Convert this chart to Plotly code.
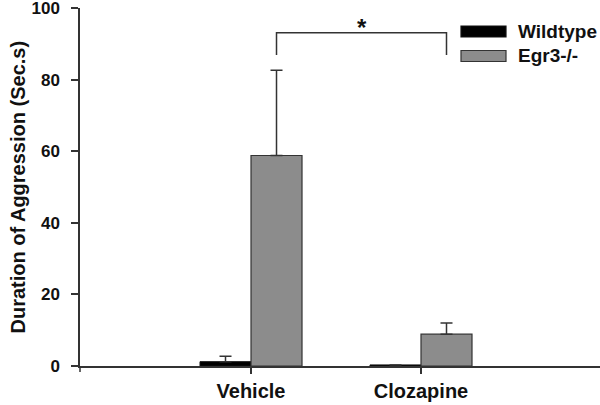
import plotly.graph_objects as go

categories = ["Vehicle", "Clozapine"]
wildtype = [1.2, 0.3]
wildtype_err = [1.5, 0.0]
egr3 = [58.8, 8.9]
egr3_err = [23.8, 3.1]
y_ticks = [0, 20, 40, 60, 80, 100]
y_title = "Duration of Aggression (Sec.s)"

FONT = "Liberation Sans, Arial, sans-serif"
AX = "#333333"

fig = go.Figure()
fig.add_trace(go.Bar(
    x=categories, y=wildtype, name="Wildtype",
    marker=dict(color="#000000", line=dict(color="#111111", width=1)),
    error_y=dict(type="data", array=wildtype_err, arrayminus=[0, 0], symmetric=False,
                 color=AX, thickness=1.5, width=6),
))
fig.add_trace(go.Bar(
    x=categories, y=egr3, name="Egr3-/-",
    marker=dict(color="#8c8c8c", line=dict(color=AX, width=1.2)),
    error_y=dict(type="data", array=egr3_err, arrayminus=[0, 0], symmetric=False,
                 color=AX, thickness=1.5, width=6),
))

# significance bracket
fig.add_shape(type="path", xref="x", yref="y",
              path="M 0.15 86.9 L 0.15 93.1 L 1.15 93.1 L 1.15 86.9",
              line=dict(color=AX, width=1.5))
fig.add_annotation(x=0.65, y=95.8, xref="x", yref="y", text="*", showarrow=False,
                   yanchor="middle", yshift=-4,
                   font=dict(family=FONT, size=24, color="#111111", weight="bold"))

# y axis line extension below the x axis
fig.add_shape(type="line", xref="paper", yref="paper", x0=0, x1=0, y0=0, y1=-6 / 358,
              line=dict(color=AX, width=1.5))

# y-axis title as rotated annotation
fig.add_annotation(xref="paper", yref="paper", x=(17 - 80) / 520, y=0.5 - (187.5 - 187) / 358,
                   text=y_title, textangle=-90, showarrow=False,
                   xanchor="center", yanchor="middle",
                   font=dict(family=FONT, size=20, color="#111111", weight="bold"))

# legend drawn manually
leg = [("Wildtype", "#000000", "#111111", 31.5), ("Egr3-/-", "#8c8c8c", AX, 56)]
for name, fill, edge, ypx in leg:
    y0 = 1 - (ypx - 5.5 - 8) / 358
    y1 = 1 - (ypx + 5.5 - 8) / 358
    fig.add_shape(type="rect", xref="paper", yref="paper",
                  x0=(461 - 80) / 520, x1=(506 - 80) / 520, y0=y1, y1=y0,
                  fillcolor=fill, line=dict(color=edge, width=1.2))
    fig.add_annotation(xref="paper", yref="paper", x=(516 - 80) / 520,
                       y=1 - (ypx - 8) / 358, text=name, showarrow=False,
                       xanchor="left", yanchor="middle",
                       font=dict(family=FONT, size=19, color="#111111", weight="bold"))

fig.update_layout(
    width=600, height=405,
    margin=dict(l=80, r=0, t=8, b=39),
    paper_bgcolor="white", plot_bgcolor="white",
    barmode="group", bargap=0.4, bargroupgap=0,
    showlegend=False,
    font=dict(family=FONT, color="#111111"),
)
fig.update_xaxes(
    range=[-1.006, 2.053], showline=True, linecolor=AX, linewidth=1.5,
    ticks="outside", ticklen=6, tickcolor=AX, tickwidth=1.5,
    tickfont=dict(family=FONT, size=20, color="#111111", weight="bold"),
    showgrid=False, zeroline=False, automargin=False,
)
fig.update_yaxes(
    range=[0, 100], tickvals=y_ticks, showline=True, linecolor=AX, linewidth=1.5,
    ticks="outside", ticklen=7, tickcolor=AX, tickwidth=1.5, ticklabelstandoff=8,
    ticklabeloverflow="allow",
    tickfont=dict(family=FONT, size=17, color="#111111", weight="bold"),
    showgrid=False, zeroline=False, automargin=False,
)

fig.write_html(
    "out.html",
    config={"displayModeBar": False},
    post_script="document.body.style.margin='0';document.body.style.overflow='hidden';",
)
